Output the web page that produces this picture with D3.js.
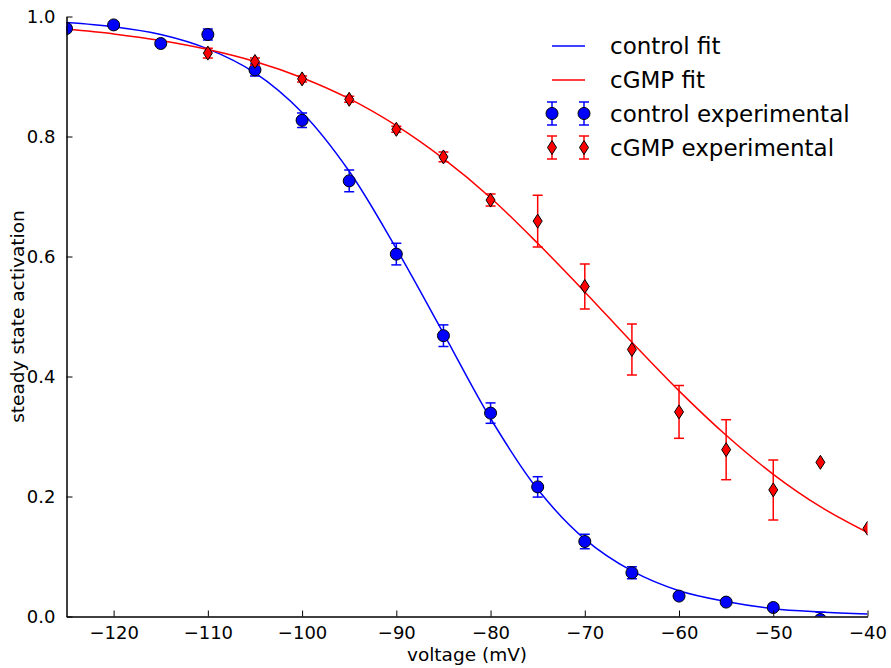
<!DOCTYPE html>
<html>
<head>
<meta charset="utf-8">
<script src="https://cdn.jsdelivr.net/npm/d3@7"></script>
<style>
  html, body { margin: 0; padding: 0; background: #fff; }
  svg { display: block; font-family: "DejaVu Sans", sans-serif; }
</style>
</head>
<body>
<svg id="chart" width="891" height="668"></svg>
<script>
// ---- data ----
const xTicks = [-120, -110, -100, -90, -80, -70, -60, -50, -40];
const yTicks = [0.0, 0.2, 0.4, 0.6, 0.8, 1.0];

const controlVoltage = [-125, -120, -115, -110, -105, -100, -95, -90, -85, -80, -75, -70, -65, -60, -55, -50, -45];
const controlMean    = [0.980, 0.986, 0.955, 0.970, 0.911, 0.827, 0.726, 0.604, 0.468, 0.339, 0.216, 0.125, 0.073, 0.034, 0.024, 0.015, -0.005];
const controlErr     = [0.003, 0.003, 0.003, 0.009, 0.010, 0.012, 0.018, 0.018, 0.018, 0.017, 0.017, 0.012, 0.010, 0.005, 0.004, 0.004, 0.012];

const cgmpVoltage = [-110, -105, -100, -95, -90, -85, -80, -75, -70, -65, -60, -55, -50, -45, -40];
const cgmpMean    = [0.939, 0.925, 0.896, 0.862, 0.812, 0.766, 0.694, 0.659, 0.550, 0.445, 0.341, 0.278, 0.211, 0.257, 0.147];
const cgmpErr     = [0.008, 0.006, 0.005, 0.005, 0.005, 0.008, 0.010, 0.043, 0.0375, 0.0425, 0.044, 0.050, 0.050, 0.0, 0.0];

const fitVoltage = [-125, -120, -115, -110, -105, -100, -95, -90, -85, -80, -75, -70, -65, -60, -55, -50, -45, -40];
const controlFit = [0.990, 0.983, 0.970, 0.946, 0.906, 0.840, 0.742, 0.613, 0.472, 0.330, 0.212, 0.129, 0.076, 0.043, 0.025, 0.013, 0.0075, 0.004];
const cgmpFit    = [0.979, 0.971, 0.960, 0.945, 0.925, 0.898, 0.863, 0.818, 0.763, 0.698, 0.622, 0.541, 0.457, 0.376, 0.302, 0.237, 0.183, 0.140];

const legendLabels = ["control fit", "cGMP fit", "control experimental", "cGMP experimental"];

// ---- layout ----
const svg = d3.select("#chart");
const pLeft = 66.5, pRight = 867.5, pTop = 16.5, pBottom = 616.5;
const x = d3.scaleLinear().domain([-125, -40]).range([pLeft, pRight]);
const y = d3.scaleLinear().domain([0, 1]).range([pBottom, pTop]);

svg.append("defs").append("clipPath").attr("id", "plotclip")
  .append("rect").attr("x", pLeft).attr("y", pTop).attr("width", pRight - pLeft).attr("height", pBottom - pTop);

const plot = svg.append("g").attr("clip-path", "url(#plotclip)");

const line = d3.line().x(d => x(d[0])).y(d => y(d[1])).curve(d3.curveCatmullRom.alpha(0.5));

plot.append("path").datum(fitVoltage.map((v, i) => [v, controlFit[i]]))
  .attr("d", line).attr("fill", "none").attr("stroke", "#0000ff").attr("stroke-width", 1.5);
plot.append("path").datum(fitVoltage.map((v, i) => [v, cgmpFit[i]]))
  .attr("d", line).attr("fill", "none").attr("stroke", "#ff0000").attr("stroke-width", 1.5);

function errorBars(g, xs, ms, es, color) {
  const data = xs.map((v, i) => ({v, m: ms[i], e: es[i]})).filter(d => d.e > 0);
  const eg = g.append("g").attr("stroke", color).attr("stroke-width", 1.5).attr("fill", "none");
  eg.selectAll("line.v").data(data).join("line").attr("class", "v")
    .attr("x1", d => x(d.v)).attr("x2", d => x(d.v))
    .attr("y1", d => y(d.m - d.e)).attr("y2", d => y(d.m + d.e));
  eg.selectAll("line.t").data(data).join("line").attr("class", "t")
    .attr("x1", d => x(d.v) - 5).attr("x2", d => x(d.v) + 5)
    .attr("y1", d => y(d.m + d.e)).attr("y2", d => y(d.m + d.e));
  eg.selectAll("line.b").data(data).join("line").attr("class", "b")
    .attr("x1", d => x(d.v) - 5).attr("x2", d => x(d.v) + 5)
    .attr("y1", d => y(d.m - d.e)).attr("y2", d => y(d.m - d.e));
}

const diamond = (cx, cy) => `M${cx},${cy - 7}L${cx + 4.5},${cy}L${cx},${cy + 7}L${cx - 4.5},${cy}Z`;

errorBars(plot, controlVoltage, controlMean, controlErr, "#0000ff");
plot.append("g").selectAll("circle").data(controlVoltage.map((v, i) => [v, controlMean[i]])).join("circle")
  .attr("cx", d => x(d[0])).attr("cy", d => y(d[1])).attr("r", 6)
  .attr("fill", "#0000ff").attr("stroke", "#000").attr("stroke-width", 1);

errorBars(plot, cgmpVoltage, cgmpMean, cgmpErr, "#ff0000");
plot.append("g").selectAll("path").data(cgmpVoltage.map((v, i) => [v, cgmpMean[i]])).join("path")
  .attr("d", d => diamond(x(d[0]), y(d[1])))
  .attr("fill", "#ff0000").attr("stroke", "#000").attr("stroke-width", 1);

// ---- axes ----
const xAxis = d3.axisBottom(x).tickValues(xTicks).tickSizeInner(-6).tickSizeOuter(0).tickPadding(10)
  .tickFormat(d => d3.format("d")(d).replace("-", "\u2212"));
const gx = svg.append("g").attr("transform", `translate(0,${pBottom})`).call(xAxis);
gx.select(".domain").attr("stroke", "#000").attr("stroke-width", 1.5);
gx.selectAll(".tick line").attr("stroke", "#000").attr("stroke-width", 1);
gx.selectAll(".tick text").attr("font-size", 18).attr("fill", "#000").attr("font-family", "DejaVu Sans");

const yAxis = d3.axisLeft(y).tickValues(yTicks).tickSizeInner(-6).tickSizeOuter(0).tickPadding(11)
  .tickFormat(d3.format(".1f"));
const gy = svg.append("g").attr("transform", `translate(${pLeft},0)`).call(yAxis);
gy.select(".domain").attr("stroke", "#000").attr("stroke-width", 1.5);
gy.selectAll(".tick line").attr("stroke", "#000").attr("stroke-width", 1);
gy.selectAll(".tick text").attr("font-size", 18).attr("fill", "#000").attr("font-family", "DejaVu Sans");

svg.append("text").attr("x", (pLeft + pRight) / 2).attr("y", 661).attr("text-anchor", "middle")
  .attr("font-size", 18.5).text("voltage (mV)");
svg.append("text").attr("transform", `translate(24,${(pTop + pBottom) / 2}) rotate(-90)`)
  .attr("text-anchor", "middle").attr("font-size", 18.5).text("steady state activation");

// ---- legend ----
const lg = svg.append("g");
const rowY = [46, 80, 113.5, 147.5];
const lx1 = 552, lx2 = 585, mx = [552, 584];
lg.append("line").attr("x1", lx1).attr("x2", lx2).attr("y1", rowY[0]).attr("y2", rowY[0]).attr("stroke", "#0000ff").attr("stroke-width", 1.5);
lg.append("line").attr("x1", lx1).attr("x2", lx2).attr("y1", rowY[1]).attr("y2", rowY[1]).attr("stroke", "#ff0000").attr("stroke-width", 1.5);
mx.forEach(cx => {
  [[rowY[2], "#0000ff"], [rowY[3], "#ff0000"]].forEach(([cy, col]) => {
    lg.append("line").attr("x1", cx).attr("x2", cx).attr("y1", cy - 11.5).attr("y2", cy + 11.5).attr("stroke", col).attr("stroke-width", 1.5);
    lg.append("line").attr("x1", cx - 5).attr("x2", cx + 5).attr("y1", cy - 11.5).attr("y2", cy - 11.5).attr("stroke", col).attr("stroke-width", 1.5);
    lg.append("line").attr("x1", cx - 5).attr("x2", cx + 5).attr("y1", cy + 11.5).attr("y2", cy + 11.5).attr("stroke", col).attr("stroke-width", 1.5);
  });
  lg.append("circle").attr("cx", cx).attr("cy", rowY[2]).attr("r", 6).attr("fill", "#0000ff").attr("stroke", "#000");
  lg.append("path").attr("d", diamond(cx, rowY[3])).attr("fill", "#ff0000").attr("stroke", "#000");
});
lg.selectAll("text").data(legendLabels).join("text")
  .attr("x", 610).attr("y", (d, i) => rowY[i]).attr("dy", "0.36em")
  .attr("font-size", 23).attr("fill", "#000").text(d => d);
</script>
</body>
</html>
